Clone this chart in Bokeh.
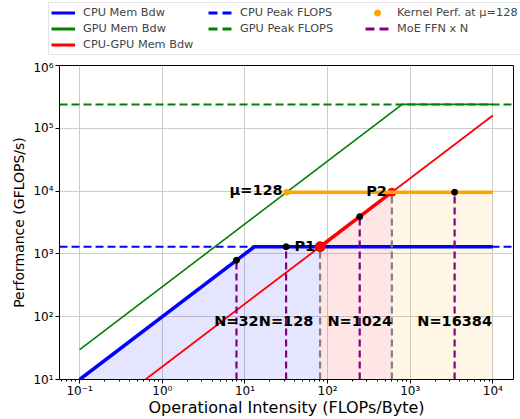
from bokeh.plotting import figure
from bokeh.layouts import column
from bokeh.models import Legend, LegendItem, Range1d, CustomJSTickFormatter
from bokeh.embed import file_html
from bokeh.resources import INLINE
from bokeh.core.properties import value

# ---- data ----
x_lim = [0.057, 17800]
y_lim = [10, 1e6]

cpu_roof_x = [0.1, 13, 1e4]
cpu_roof_y = [10, 1300, 1300]
gpu_roof_x = [0.1, 800, 1e4]
gpu_roof_y = [30, 2.4e5, 2.4e5]
link_x = [0.625, 1e4]
link_y = [10, 1.6e5]
cpu_peak = 1300
gpu_peak = 2.4e5
kernel_x = [32, 1e4]
kernel_perf = 9600
p1 = (81.25, 1300)
p2 = (600, 9600)
n_labels = ["N=32", "N=128", "N=1024", "N=16384"]
n_oi = [7.9, 31.5, 245, 3450]
n_perf = [790, 1300, 3920, 9600]
n_label_y = 84

legend_labels = ["CPU Mem Bdw", "CPU Peak FLOPS", "Kernel Perf. at μ=128",
                 "GPU Mem Bdw", "GPU Peak FLOPS", "MoE FFN x N", "CPU-GPU Mem Bdw"]

FONT = "DejaVu Sans"
LEG_H = 60

p = figure(width=520, height=419 - LEG_H, x_axis_type="log", y_axis_type="log",
           x_range=Range1d(*x_lim), y_range=Range1d(*y_lim),
           output_backend="svg", toolbar_location=None,
           min_border_left=59, min_border_right=7, min_border_bottom=39, min_border_top=65 - LEG_H)
p.frame_align = False

p.outline_line_color = "black"
p.outline_line_width = 1
p.background_fill_color = "white"
p.border_fill_color = "white"

# fills
base = y_lim[0]
p.varea(x=[cpu_roof_x[0], cpu_roof_x[1], p1[0]], y1=[base, base, base],
        y2=[cpu_roof_y[0], cpu_roof_y[1], p1[1]], fill_color="blue", fill_alpha=0.1)
p.varea(x=[p1[0], p2[0]], y1=[base, base], y2=[p1[1], p2[1]], fill_color="red", fill_alpha=0.1)
p.varea(x=[p2[0], kernel_x[1]], y1=[base, base], y2=[kernel_perf, kernel_perf],
        fill_color="orange", fill_alpha=0.1)

# peaks (dashed, full width)
p.line(x=x_lim, y=[cpu_peak, cpu_peak], line_color="blue", line_width=2, line_dash="8 4")
p.line(x=x_lim, y=[gpu_peak, gpu_peak], line_color="green", line_width=2, line_dash="8 4")

# rooflines
p.line(x=gpu_roof_x, y=gpu_roof_y, line_color="green", line_width=1.6)
p.line(x=link_x, y=link_y, line_color="red", line_width=1.8)
p.line(x=[p1[0], p2[0]], y=[p1[1], p2[1]], line_color="red", line_width=3.5)
p.line(x=cpu_roof_x, y=cpu_roof_y, line_color="blue", line_width=3.5)

# vertical guides
p.segment(x0=[p1[0], p2[0]], y0=[base, base], x1=[p1[0], p2[0]], y1=[p1[1], p2[1]],
          line_color="gray", line_width=2.2, line_dash="7 4")
p.segment(x0=n_oi, y0=[base] * len(n_oi), x1=n_oi, y1=n_perf,
          line_color="purple", line_width=2.2, line_dash="7 4")

p.scatter(x=[p2[0]], y=[p2[1]], size=8, color="red")
p.line(x=kernel_x, y=[kernel_perf, kernel_perf], line_color="orange", line_width=3.5)
p.scatter(x=[kernel_x[0]], y=[kernel_perf], size=6, color="orange")

p.scatter(x=n_oi, y=n_perf, size=6, color="black")
p.scatter(x=[p1[0]], y=[p1[1]], size=10, color="red")

# texts
common = dict(text_font=value(FONT), text_font_style="bold", text_font_size="14.5px", text_color="black")
p.text(x=[kernel_x[0]], y=[kernel_perf], text=["μ=128"], text_align="right", text_baseline="alphabetic",
       x_offset=-4, y_offset=-2, **common)
p.text(x=[p1[0]], y=[p1[1]], text=["P1"], text_align="right", text_baseline="alphabetic",
       x_offset=-5, y_offset=-1, **common)
p.text(x=[p2[0]], y=[p2[1]], text=["P2"], text_align="right", text_baseline="alphabetic",
       x_offset=-5, y_offset=-1, **common)
p.text(x=n_oi, y=[n_label_y] * len(n_oi), text=n_labels, text_align="center", text_baseline="middle",
       **common)

fmt = CustomJSTickFormatter(code="""
const sup = {'-':'\u207b','0':'\u2070','1':'\u00b9','2':'\u00b2','3':'\u00b3','4':'\u2074','5':'\u2075','6':'\u2076','7':'\u2077','8':'\u2078','9':'\u2079'};
const e = Math.round(Math.log10(tick));
return '10' + String(e).split('').map(c => sup[c]).join('');
""")

for ax in (p.xaxis[0], p.yaxis[0]):
    ax.formatter = fmt
    ax.major_label_text_font = FONT
    ax.major_label_text_font_size = "12px"
    ax.major_label_text_color = "black"
    ax.major_label_text_line_height = 1.0
    ax.axis_label_text_font = FONT
    ax.axis_label_text_font_style = "normal"
    ax.axis_label_text_color = "black"
    ax.axis_label_text_line_height = 1.0
    ax.major_tick_in = 0
    ax.major_tick_out = 4
    ax.minor_tick_in = 0
    ax.minor_tick_out = 2
    ax.axis_line_color = None

p.xaxis[0].major_label_standoff = 0
p.yaxis[0].major_label_standoff = 2
p.xaxis[0].axis_label_text_font_size = "16px"
p.yaxis[0].axis_label_text_font_size = "14px"
p.xaxis[0].axis_label_standoff = -3
p.yaxis[0].axis_label_standoff = 3
p.yaxis[0].minor_tick_line_color = None
p.xaxis.axis_label = "Operational Intensity (FLOPs/Byte)"
p.yaxis.axis_label = "Performance (GFLOPS/s)"

p.xgrid.grid_line_color = "#cccccc"
p.ygrid.grid_line_color = "#cccccc"

# ---- legend strip (separate figure above the plot) ----
lf = figure(width=520, height=LEG_H, x_range=Range1d(0, 1), y_range=Range1d(0, 1),
            output_backend="svg", toolbar_location=None,
            min_border_left=48, min_border_right=0, min_border_top=2, min_border_bottom=0,
            x_axis_location=None, y_axis_location=None)
lf.frame_align = False
lf.outline_line_color = None
lf.xgrid.visible = False
lf.ygrid.visible = False
off = [5, 6]
r_cpu = lf.line(x=off, y=off, line_color="blue", line_width=3)
r_cpu_peak = lf.line(x=off, y=off, line_color="blue", line_width=3, line_dash="9 5")
r_kernel = lf.scatter(x=off, y=off, size=6, color="orange")
r_gpu = lf.line(x=off, y=off, line_color="green", line_width=3)
r_gpu_peak = lf.line(x=off, y=off, line_color="green", line_width=3, line_dash="9 5")
r_moe = lf.line(x=off, y=off, line_color="purple", line_width=3, line_dash="9 5")
r_link = lf.line(x=off, y=off, line_color="red", line_width=3)
rends = [r_cpu, r_cpu_peak, r_kernel, r_gpu, r_gpu_peak, r_moe, r_link]

legend = Legend(items=[LegendItem(label=l, renderers=[r]) for l, r in zip(legend_labels, rends)],
                orientation="horizontal", ncols=3)
legend.label_text_font = FONT
legend.label_text_font_size = "11.3px"
legend.glyph_width = 24
legend.glyph_height = 15
legend.label_height = 15
legend.label_width = 124
legend.label_standoff = 8
legend.spacing = 1
legend.padding = 2
legend.margin = 0
legend.border_line_color = "#cccccc"
legend.location = "top_left"
lf.add_layout(legend, "center")

open("out.html", "w").write(file_html(column(lf, p, spacing=0), INLINE))
